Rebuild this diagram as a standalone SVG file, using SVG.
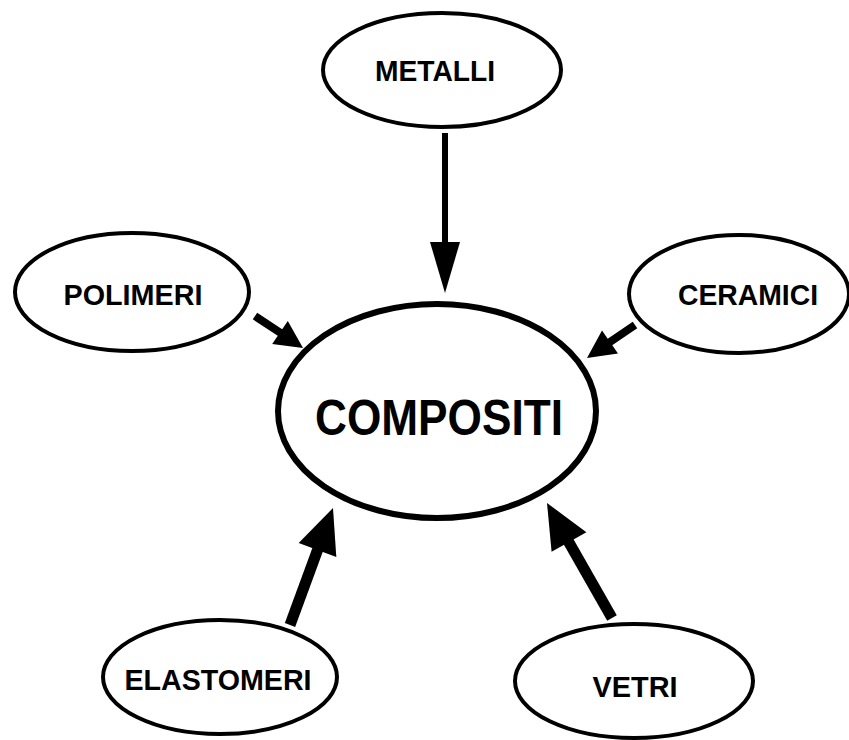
<svg xmlns="http://www.w3.org/2000/svg" width="849" height="740" viewBox="0 0 849 740">
<style>
.n{fill:#fff;stroke:#000;stroke-width:4}
.c{fill:#fff;stroke:#000;stroke-width:6}
.t{font-family:"Liberation Sans",Arial,sans-serif;font-weight:bold;font-size:29px;fill:#000;text-anchor:middle}
.big{font-size:50px}
.s{stroke:#000;fill:none}
.h{fill:#000}
</style>
<rect width="849" height="740" fill="#fff"/>
<g id="connectors">
<line class="s" x1="445" y1="133" x2="445" y2="246" stroke-width="6"/>
<polygon class="h" points="430,242 460,242 445,293"/>
<line class="s" x1="255" y1="316" x2="283" y2="334.5" stroke-width="8"/>
<polygon class="h" points="287.8,320.9 272.2,344.1 303,348"/>
<line class="s" x1="635" y1="325" x2="607" y2="344" stroke-width="8"/>
<polygon class="h" points="618,353.6 602,330.4 587,358"/>
<line class="s" x1="290" y1="625" x2="319" y2="546" stroke-width="11"/>
<polygon class="h" points="336.3,556.9 298.7,543.1 333,508"/>
<line class="s" x1="612" y1="618" x2="567" y2="539" stroke-width="11"/>
<polygon class="h" points="586.4,532.2 551.6,551.8 547,503"/>
</g>
<g id="metalli"><ellipse class="n" cx="442" cy="70" rx="119" ry="57"/><text class="t" x="435" y="81" textLength="120" lengthAdjust="spacingAndGlyphs">METALLI</text></g>
<g id="polimeri"><ellipse class="n" cx="132" cy="292" rx="117" ry="59"/><text class="t" x="133" y="305" textLength="139" lengthAdjust="spacingAndGlyphs">POLIMERI</text></g>
<g id="ceramici"><ellipse class="n" cx="739" cy="294" rx="110" ry="59"/><text class="t" x="748" y="305" textLength="140" lengthAdjust="spacingAndGlyphs">CERAMICI</text></g>
<g id="compositi"><ellipse class="c" cx="437" cy="411" rx="159" ry="107"/><text class="t big" x="439" y="435" textLength="248" lengthAdjust="spacingAndGlyphs">COMPOSITI</text></g>
<g id="elastomeri"><ellipse class="n" cx="220" cy="677" rx="117" ry="57"/><text class="t" x="218" y="690" textLength="187" lengthAdjust="spacingAndGlyphs">ELASTOMERI</text></g>
<g id="vetri"><ellipse class="n" cx="634" cy="681" rx="119" ry="57"/><text class="t" x="635" y="697" textLength="85" lengthAdjust="spacingAndGlyphs">VETRI</text></g>
</svg>
